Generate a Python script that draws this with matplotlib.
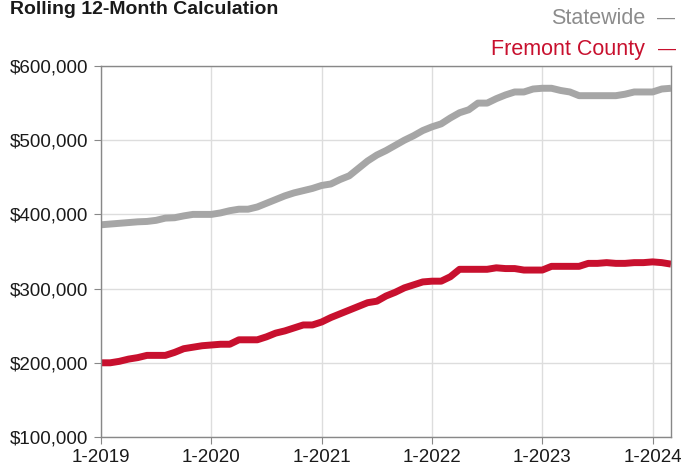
import matplotlib.pyplot as plt
from matplotlib.ticker import FuncFormatter

plt.rcParams['font.family'] = ['Liberation Sans', 'DejaVu Sans']

# monthly values, Jan 2019 .. Mar 2024 (thousands of $)
statewide = [386, 387, 388, 389, 390, 390.5, 392, 395, 395.5, 398,
             400, 400, 400, 402, 405, 407, 407, 410, 415, 420,
             425, 429, 432, 435, 439, 441, 447, 452, 462, 472,
             480, 486, 493, 500, 506, 513, 518, 522, 530, 537,
             541, 550, 550, 556, 561, 565, 565, 569, 570, 570,
             567, 565, 560, 560, 560, 560, 560, 562, 565, 565,
             565, 569, 570]
fremont = [200, 200, 202, 205, 207, 210, 210, 210, 214, 219,
           221, 223, 224, 225, 225, 231, 231, 231, 235, 240,
           243, 247, 251, 251, 255, 261, 266, 271, 276, 281,
           283, 290, 295, 301, 305, 309, 310, 310, 316, 326,
           326, 326, 326, 328, 327, 327, 325, 325, 325, 330,
           330, 330, 330, 334, 334, 335, 334, 334, 335, 335,
           336, 335, 333]
months = list(range(len(statewide)))
tick_pos = [0, 12, 24, 36, 48, 60]
tick_labels = ['1-2019', '1-2020', '1-2021', '1-2022', '1-2023', '1-2024']

gray = '#a6a6a6'
red = '#c8102e'

fig = plt.figure(figsize=(6.81, 4.68), dpi=100)
ax = fig.add_axes([101 / 681, 31 / 468, 570 / 681, 371 / 468])

ax.plot(months, [v * 1000 for v in statewide], color=gray, lw=5, solid_capstyle='butt')
ax.plot(months, [v * 1000 for v in fremont], color=red, lw=5, solid_capstyle='butt')

ax.set_xlim(0, 62)
ax.set_ylim(100000, 600000)
ax.set_yticks(range(100000, 600001, 100000))
ax.yaxis.set_major_formatter(FuncFormatter(lambda v, p: f'${v:,.0f}'))
ax.set_xticks(tick_pos)
ax.set_xticklabels(tick_labels)
ax.grid(True, color='#dddddd', lw=1)
ax.set_axisbelow(True)
for s in ax.spines.values():
    s.set_color('#888888')
    s.set_linewidth(1)
ax.tick_params(axis='both', colors='#888888', labelcolor='#1a1a1a',
               labelsize=13.5, length=5, direction='out')
ax.tick_params(axis='y', pad=4)
ax.tick_params(axis='x', pad=4)

fig.text(10 / 681, 1 - 1 / 468, 'Rolling 12-Month Calculation', fontsize=14,
         fontweight='bold', color='#1a1a1a', va='top', ha='left')

# legend texts with separate dash markers
fig.text(645 / 681, 1 - 18 / 468, 'Statewide', fontsize=15.5,
         color='#8c8c8c', ha='right', va='center')
fig.text(666 / 681, 1 - 18 / 468, '\u2014', fontsize=13,
         color='#8c8c8c', ha='center', va='center')
fig.text(645 / 681, 1 - 49 / 468, 'Fremont County', fontsize=15.5,
         color=red, ha='right', va='center')
fig.text(667 / 681, 1 - 49 / 468, '\u2014', fontsize=13,
         color=red, ha='center', va='center')

fig.savefig('out.png', dpi=100)
